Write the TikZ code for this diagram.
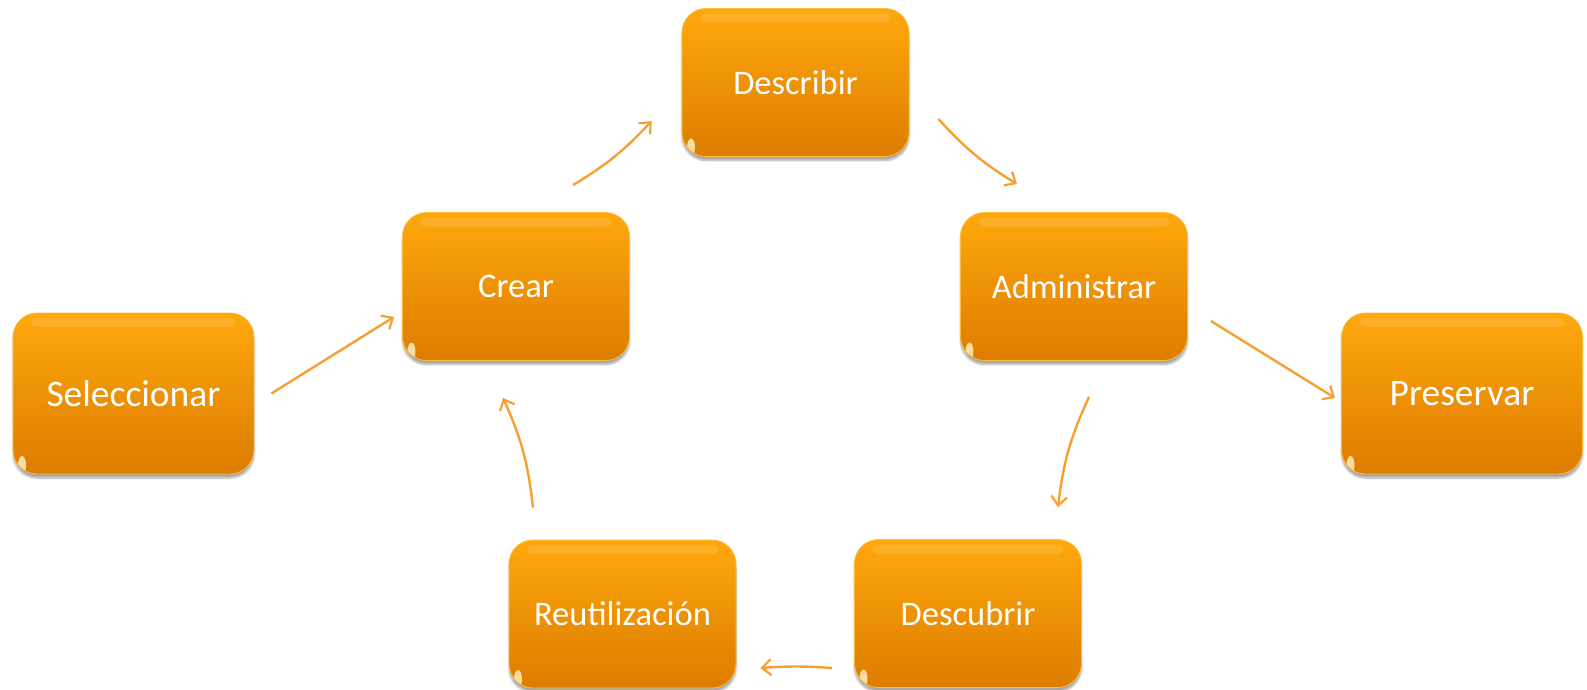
\documentclass[tikz,border=0pt]{standalone}
\usepackage{fontspec}
\setmainfont{Carlito}
\usetikzlibrary{calc,arrows.meta,shadows.blur}
\definecolor{boxtop}{RGB}{255,168,12}
\definecolor{boxbot}{RGB}{221,124,0}
\definecolor{boxedge}{RGB}{250,190,60}
\definecolor{arrcol}{RGB}{247,160,50}
\definecolor{glint}{RGB}{255,245,200}
\tikzset{
  procbox/.style={rounded corners=24pt, top color=boxtop, bottom color=boxbot,
    draw=boxedge, line width=0.8pt, text=white,
    minimum width=227pt, minimum height=148pt, inner sep=0pt,
    font=\fontsize{34.5}{40}\selectfont,
    blur shadow={shadow xshift=0pt, shadow yshift=-4pt, shadow blur steps=8, shadow opacity=35},
    path picture={
      \fill[white, opacity=0.12, rounded corners=5pt]
        ($(path picture bounding box.north west)+(18,5)$) rectangle
        ($(path picture bounding box.north east)+(-18,14)$);
      \fill[glint, opacity=0.8, rotate=45]
        ($(path picture bounding box.south west)+(9,-9)$) ellipse (4pt and 9pt);
    }},
  bigbox/.style={procbox, minimum width=241pt, minimum height=161pt,
    font=\fontsize{37.5}{44}\selectfont},
  arr/.style={draw=arrcol, line width=2.4pt, -{Straight Barb[length=9pt,width=16pt,line width=2.2pt]}},
}
\begin{document}
\begin{tikzpicture}[x=1pt,y=-1pt]
\useasboundingbox (0,0) rectangle (1587,690);
\node[procbox] (desc)  at (795.5,82.5) {Describir};
\node[procbox] (crear) at (516,286.5)  {Crear};
\node[procbox] (admin) at (1074,286.5) {Administrar};
\node[bigbox]  (sel)   at (133.5,393.5) {Seleccionar};
\node[bigbox]  (pres)  at (1462,393.5) {Preservar};
\node[procbox] (reu)   at (622.5,614)  {Reutilización};
\node[procbox] (desc2) at (968,613.5)  {Descubrir};

\draw[arr] ($(sel.east)+(17,0)$) -- ($(crear.south west)+(-8,-44)$);
\draw[arr] ($(admin.east)+(23,34.5)$) -- ($(pres.west)+(-6,4.5)$);
\draw[arr] ($(crear.north)+(57,-27)$) to[bend right=8] ($(desc.west)+(-30,38.5)$);
\draw[arr] ($(desc.east)+(29,36.5)$) to[bend right=8] ($(admin.north)+(-57,-28)$);
\draw[arr] ($(admin.south)+(15,36)$) to[bend right=9] ($(desc2.north)+(90,-32)$);
\draw[arr] ($(desc2.west)+(-22,54.5)$) to[bend right=4] ($(reu.east)+(24,54)$);
\draw[arr] ($(reu.north)+(-89.5,-32)$) to[bend right=9] ($(crear.south)+(-13,37)$);
\end{tikzpicture}
\end{document}
